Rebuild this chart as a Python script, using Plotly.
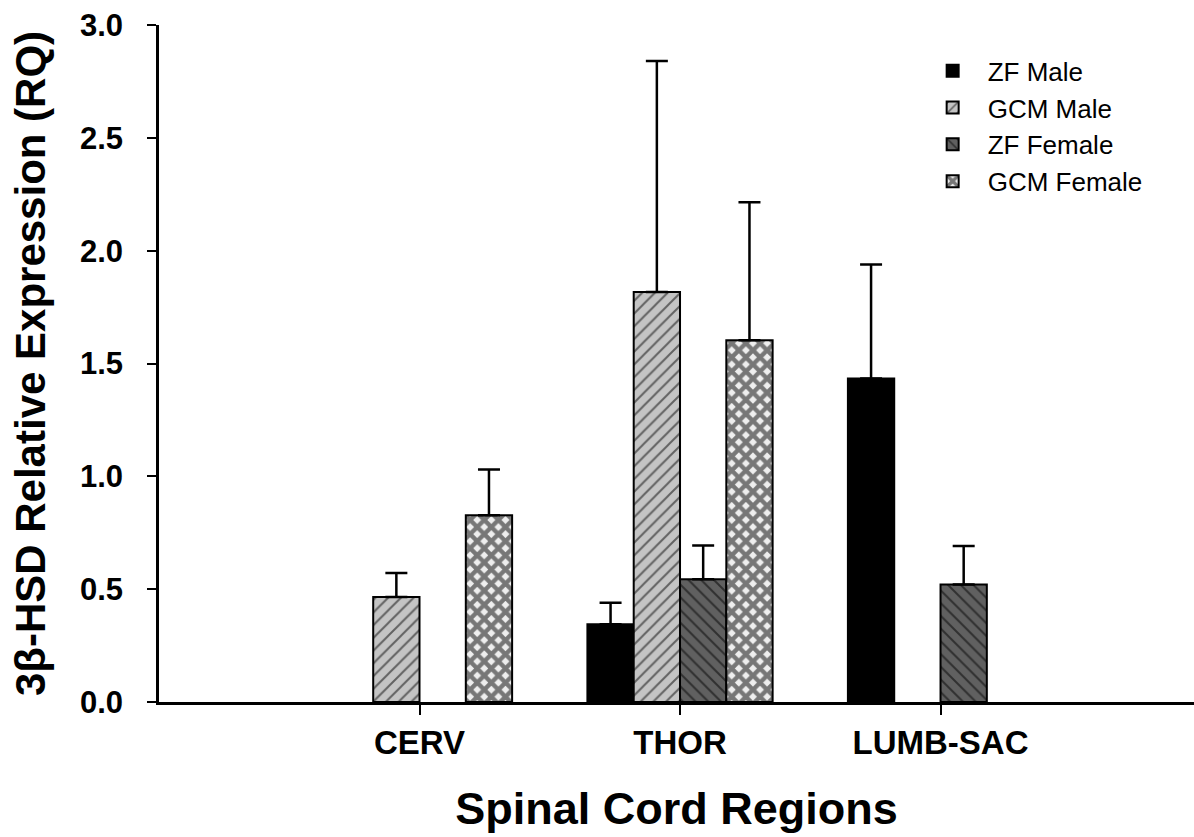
import plotly.graph_objects as go

regions = ["CERV", "THOR", "LUMB-SAC"]
region_pos = [1, 2, 3]

series_names = ["ZF Male", "GCM Male", "ZF Female", "GCM Female"]
zf_male = [None, 0.344, 1.433]
zf_male_err = [None, 0.096, 0.506]
gcm_male = [0.465, 1.817, None]
gcm_male_err = [0.107, 1.023, None]
zf_female = [None, 0.544, 0.521]
zf_female_err = [None, 0.149, 0.170]
gcm_female = [0.827, 1.603, None]
gcm_female_err = [0.203, 0.612, None]

y_ticks = [0.0, 0.5, 1.0, 1.5, 2.0, 2.5, 3.0]
y_tick_text = ["0.0", "0.5", "1.0", "1.5", "2.0", "2.5", "3.0"]

FONT = "Liberation Sans, Arial, sans-serif"

styles = [
    dict(color="#000000", pattern=dict(shape="")),
    dict(color="#c4c4c4", pattern=dict(shape="/", fgcolor="#000000", bgcolor="#c4c4c4", size=9, solidity=0.22)),
    dict(color="#606060", pattern=dict(shape="\\", fgcolor="#000000", bgcolor="#606060", size=9, solidity=0.22)),
    dict(color="#eeeeee", pattern=dict(shape="x", fgcolor="#000000", bgcolor="#eeeeee", size=10, solidity=0.68)),
]
values = [zf_male, gcm_male, zf_female, gcm_female]
errors = [zf_male_err, gcm_male_err, zf_female_err, gcm_female_err]

fig = go.Figure()
for name, vals, errs, st in zip(series_names, values, errors, styles):
    fig.add_trace(go.Bar(
        x=region_pos, y=vals, name=name,
        marker=dict(color=st["color"], pattern=st["pattern"],
                    line=dict(color="#000000", width=2)),
        error_y=dict(type="data", symmetric=False, array=errs,
                     arrayminus=[0 if e is not None else None for e in errs],
                     color="#000000", thickness=2.5, width=11),
    ))

fig.update_layout(
    width=1194, height=837, autosize=False,
    margin=dict(l=159, r=0, t=25, b=135),
    paper_bgcolor="white", plot_bgcolor="white",
    barmode="group", bargap=0.289, bargroupgap=0,
    font=dict(family=FONT, color="#000000"),
    legend=dict(x=0.733, y=0.967, xanchor="left", yanchor="top",
                font=dict(family=FONT, size=26, color="#000000"),
                bgcolor="rgba(0,0,0,0)", tracegroupgap=0, itemwidth=60),
    showlegend=True,
)
fig.update_xaxes(
    range=[0, 3.973], tickmode="array", tickvals=region_pos, ticktext=regions,
    showline=True, linecolor="#000000", linewidth=2.5,
    ticks="outside", ticklen=10, tickwidth=2, tickcolor="#000000",
    tickfont=dict(family=FONT, size=33, weight="bold"),
    showgrid=False, zeroline=False,
    title=dict(text="Spinal Cord Regions", font=dict(family=FONT, size=45, weight="bold"), standoff=33),
)
fig.update_yaxes(
    range=[0, 3.0], tickmode="array", tickvals=y_ticks, ticktext=y_tick_text,
    showline=True, linecolor="#000000", linewidth=2.5,
    ticks="outside", ticklen=9, tickwidth=2, tickcolor="#000000",
    tickfont=dict(family=FONT, size=31, weight="bold"), ticklabelstandoff=18,
    showgrid=False, zeroline=False,
    title=dict(text="3β-HSD Relative Expression (RQ)", font=dict(family=FONT, size=42, weight="bold"), standoff=22),
)

fig.write_html("out.html")
